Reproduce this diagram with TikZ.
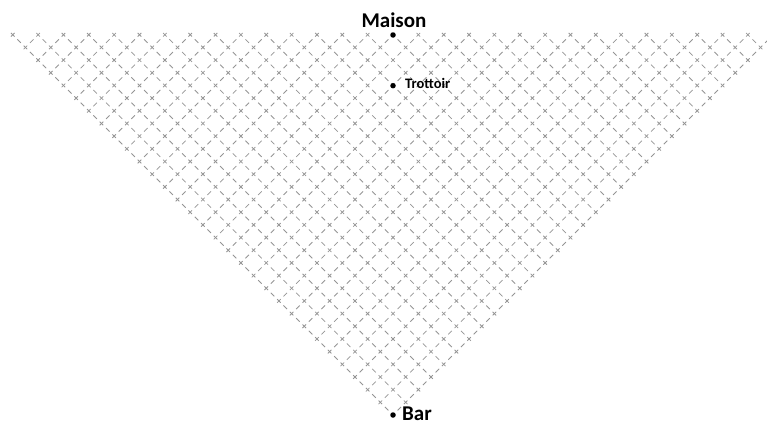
\documentclass[tikz,border=0pt]{standalone}
\usepackage{fontspec}
\setmainfont{Carlito}
\begin{document}
\begin{tikzpicture}[
        x=1pt, y=-1pt,
        grid/.style={black!42, line width=0.8pt, dash pattern=on 5pt off 3.9625pt, dash phase=8.46pt},
        dot/.style={circle, fill=black, inner sep=0pt, minimum size=5.5pt},
        bigname/.style={inner sep=0pt, font=\fontsize{21}{22}\selectfont\bfseries},
        smallname/.style={inner sep=0pt, font=\fontsize{14.5}{16}\selectfont\bfseries}
    ]
        \useasboundingbox (0,0) rectangle (767,426);

        % Descending lines of the grid (top row to right edge)
        \foreach \k [evaluate=\k as \e using 30.167-\k] in {0,...,30}
            \draw[grid] ({393+12.675*(\k+0.167)},{415-12.675*(\k-0.167)}) -- ({393+12.675*(\k-\e)},{415-12.675*(\e+\k)});

        % Rising lines of the grid (left edge to top row)
        \foreach \k [evaluate=\k as \e using 30.167-\k] in {0,...,30}
            \draw[grid] ({393-12.675*(\k+0.167)},{415-12.675*(\k-0.167)}) -- ({393+12.675*(\e-\k)},{415-12.675*(\e+\k)});

        % Places
        \node[dot] (maison) at (393, 35) {};
        \node[dot] (trottoir) at (393, 85.7) {};
        \node[dot] (bar) at (393, 415) {};

        % Names
        \node[bigname, anchor=base] (maisonname) at (394, 27) {Maison};
        \node[smallname, anchor=base west] (trottoirname) at (405, 88) {Trottoir};
        \node[bigname, anchor=base west] (barname) at (402, 420.5) {Bar};

    \end{tikzpicture}
\end{document}
